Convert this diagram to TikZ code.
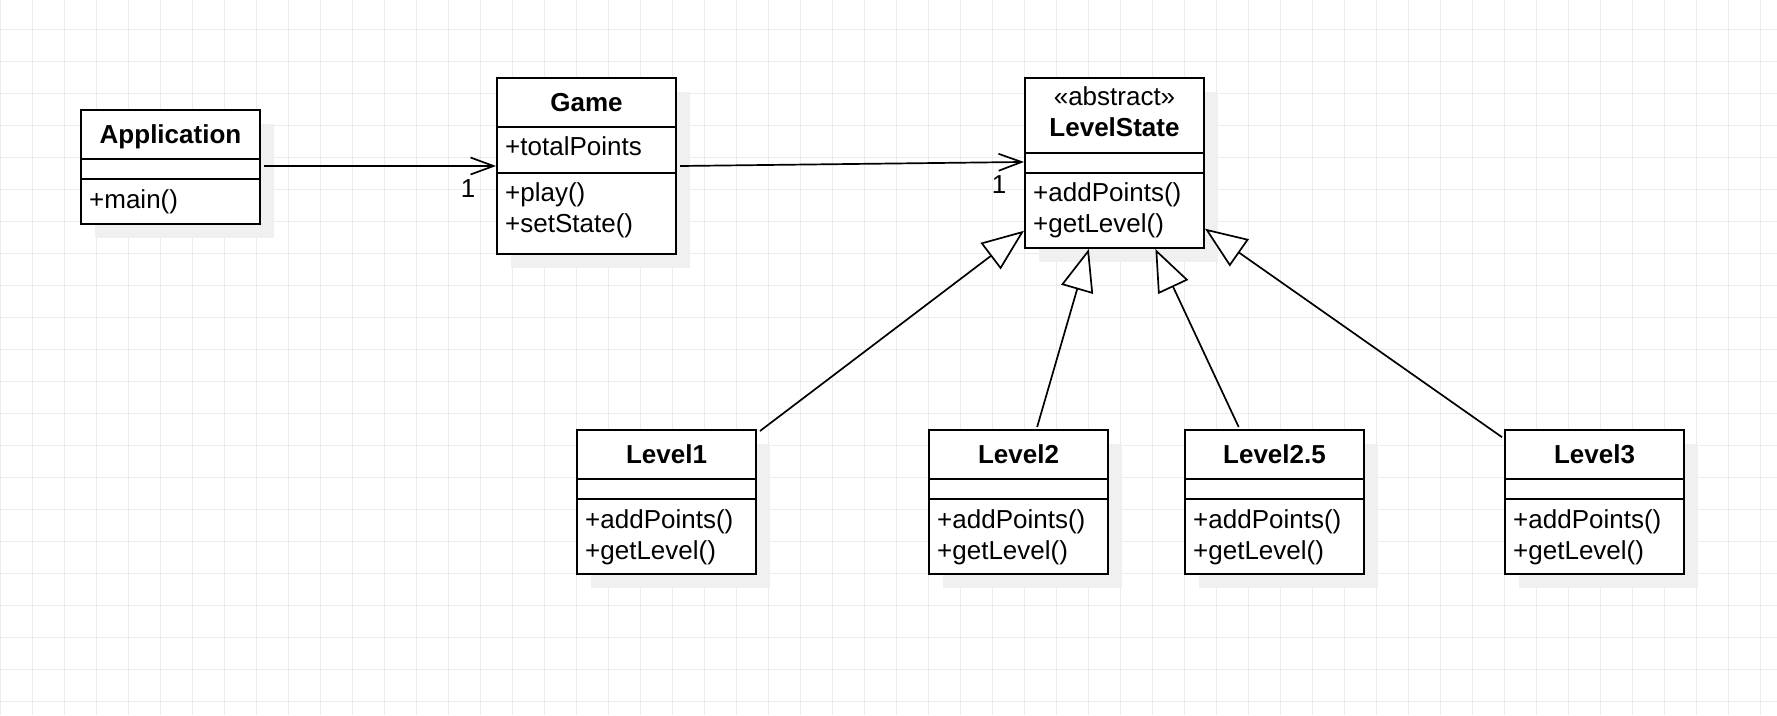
\documentclass[tikz,border=0pt]{standalone}
\usepackage{fontspec}
\setmainfont{Liberation Sans}
\usetikzlibrary{arrows.meta,calc,shadows}
\definecolor{gridc}{RGB}{236,236,236}
\definecolor{shadowc}{RGB}{240,240,240}
\begin{document}
\begin{tikzpicture}[x=1pt,y=-1pt,
  gridline/.style={draw=gridc, line width=1pt},
  classbox/.style={rectangle, draw=black, line width=2pt, fill=white, inner sep=0pt,
    anchor=north west, minimum width=179pt,
    general shadow={fill=shadowc, shadow xshift=14pt, shadow yshift=-14pt}},
  divider/.style={draw=black, line width=2pt},
  txt/.style={inner sep=0pt, font=\fontsize{26}{31.2}\selectfont},
  title/.style={inner sep=0pt, anchor=base, font=\fontsize{26}{31.2}\selectfont\bfseries},
  member/.style={txt, anchor=base west},
  mult/.style={txt, anchor=base},
  assoc/.style={draw=black, line width=1.7pt, -{Straight Barb[length=23pt,width=17pt]}},
  generalize/.style={draw=black, line width=1.7pt, -{Triangle[length=42pt,width=33pt,fill=white]}},
]
\useasboundingbox (0,0) rectangle (1777,715);
\fill[white] (0,0) rectangle (1777,715);
% grid
\foreach \i in {0,...,55} \draw[gridline] (\i*32+0.3,0) -- (\i*32+0.3,715);
\foreach \j in {0,...,21} \draw[gridline] (0,29.3+\j*32) -- (1777,29.3+\j*32);

% class boxes
\node[classbox, minimum height=114pt] (app) at (80,109) {};
\node[classbox, minimum height=176pt] (game) at (496,77) {};
\node[classbox, minimum height=170pt] (ls) at (1024,77) {};
\node[classbox, minimum height=144pt] (l1) at (576,429) {};
\node[classbox, minimum height=144pt] (l2) at (928,429) {};
\node[classbox, minimum height=144pt] (l25) at (1184,429) {};
\node[classbox, minimum height=144pt] (l3) at (1504,429) {};

% dividers
\draw[divider] ($(app.north west)+(0,50)$) -- ($(app.north east)+(0,50)$);
\draw[divider] ($(app.north west)+(0,70)$) -- ($(app.north east)+(0,70)$);
\draw[divider] ($(game.north west)+(0,50)$) -- ($(game.north east)+(0,50)$);
\draw[divider] ($(game.north west)+(0,96)$) -- ($(game.north east)+(0,96)$);
\draw[divider] ($(ls.north west)+(0,76)$) -- ($(ls.north east)+(0,76)$);
\draw[divider] ($(ls.north west)+(0,96)$) -- ($(ls.north east)+(0,96)$);
\foreach \b in {l1,l2,l25,l3} {
  \draw[divider] ($(\b.north west)+(0,50)$) -- ($(\b.north east)+(0,50)$);
  \draw[divider] ($(\b.north west)+(0,70)$) -- ($(\b.north east)+(0,70)$);
}

% texts
\node[title] (appt) at ($(app.north)+(0,34)$) {Application};
\node[member] (appm) at ($(app.north west)+(9,99)$) {+main()};
\node[title] (gamet) at ($(game.north)+(0,34)$) {Game};
\node[member] (gamea) at ($(game.north west)+(9,78.6)$) {+totalPoints};
\node[member] (gamem1) at ($(game.north west)+(9,124.6)$) {+play()};
\node[member] (gamem2) at ($(game.north west)+(9,155.8)$) {+setState()};
\node[txt, anchor=base] (lss) at ($(ls.north)+(0,28)$) {«abstract»};
\node[title] (lst) at ($(ls.north)+(0,59)$) {LevelState};
\node[member] (lsm1) at ($(ls.north west)+(9,124.6)$) {+addPoints()};
\node[member] (lsm2) at ($(ls.north west)+(9,155.8)$) {+getLevel()};
\foreach \b/\t in {l1/Level1,l2/Level2,l25/Level2.5,l3/Level3} {
  \node[title] (\b t) at ($(\b.north)+(0,34)$) {\t};
  \node[member] (\b m1) at ($(\b.north west)+(9,99)$) {+addPoints()};
  \node[member] (\b m2) at ($(\b.north west)+(9,130)$) {+getLevel()};
}

% associations
\coordinate (appout) at ($(app.east |- game.west)+(3,0)$);
\draw[assoc] (appout) -- (game.west);
\node[mult] (m1) at ($(game.west)+(-28,31)$) {1};
\coordinate (gameout) at ($(game.east)+(3,0)$);
\coordinate (lsin) at ($(ls.north west)!0.494!(ls.south west)$);
\draw[assoc] (gameout) -- (lsin);
\node[mult] (m2) at ($(lsin)+(-25,32)$) {1};

% generalizations
\coordinate (l1out) at ($(l1.north east)+(3,2)$);
\draw[generalize] (l1out) -- ($(ls.north west)!0.894!(ls.south west)$);
\coordinate (l2out) at ($(l2.north west)!0.603!(l2.north east)+(0,-2)$);
\draw[generalize] (l2out) -- ($(ls.south west)!0.358!(ls.south east)$);
\coordinate (l25out) at ($(l25.north west)!0.302!(l25.north east)+(0,-2)$);
\draw[generalize] (l25out) -- ($(ls.south west)!0.726!(ls.south east)$);
\coordinate (l3out) at ($(l3.north west)!0.056!(l3.south west)+(-2,0)$);
\draw[generalize] (l3out) -- ($(ls.north east)!0.882!(ls.south east)$);
\end{tikzpicture}
\end{document}
